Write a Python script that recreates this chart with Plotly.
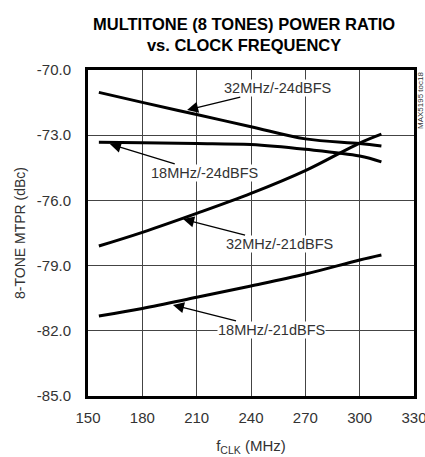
import plotly.graph_objects as go

freq_mhz = [156, 180, 210, 240, 270, 300, 312]
mtpr_32_24 = [-71.03, -71.49, -72.05, -72.61, -73.17, -73.38, -73.50]
mtpr_18_24 = [-73.33, -73.35, -73.38, -73.43, -73.65, -73.96, -74.23]
mtpr_32_21 = [-78.10, -77.47, -76.60, -75.68, -74.63, -73.36, -72.95]
mtpr_18_21 = [-81.32, -80.97, -80.46, -79.94, -79.39, -78.74, -78.51]

x_ticks = [150, 180, 210, 240, 270, 300, 330]
y_ticks = [-70, -73, -76, -79, -82, -85]
y_tick_text = ["-70.0", "-73.0", "-76.0", "-79.0", "-82.0", "-85.0"]

series = [mtpr_32_24, mtpr_18_24, mtpr_32_21, mtpr_18_21]

# label text, label centre (x, y), arrow head (x, y)
labels = ["32MHz/-24dBFS", "18MHz/-24dBFS", "32MHz/-21dBFS", "18MHz/-21dBFS"]
label_pos = [(254.4, -70.83), (214.3, -74.74), (256.0, -78.01), (251.3, -81.96)]
arrow_head = [(204.7, -71.84), (162.1, -73.41), (202.5, -76.86), (196.9, -80.81)]

FONT = "Liberation Sans, Arial, sans-serif"

fig = go.Figure()
for s in series:
    fig.add_trace(go.Scatter(x=freq_mhz, y=s, mode="lines",
                             line=dict(color="black", width=3, shape="spline"),
                             showlegend=False, hoverinfo="skip"))

annotations = []
for t, (lx, ly), (hx, hy) in zip(labels, label_pos, arrow_head):
    annotations.append(dict(x=hx, y=hy, ax=lx, ay=ly, xref="x", yref="y",
                            axref="x", ayref="y", text=t, showarrow=True,
                            arrowhead=2, arrowsize=1.7, arrowwidth=1.3,
                            arrowcolor="black", standoff=0, startstandoff=2,
                            bgcolor="white", borderpad=0,
                            font=dict(family=FONT, size=14.5, color="#333")))
annotations.append(dict(x=1.02, y=1.0, xref="paper", yref="paper",
                        text="MAX5195 toc18", showarrow=False, textangle=-90,
                        xanchor="center", yanchor="top",
                        font=dict(family=FONT, size=8, color="#333")))
annotations.append(dict(x=0.48, y=1.11, xref="paper", yref="paper",
                        text="<b>MULTITONE (8 TONES) POWER RATIO<br>vs. CLOCK FREQUENCY</b>",
                        showarrow=False, xanchor="center", yanchor="middle",
                        font=dict(family=FONT, size=16.5, color="black")))

fig.update_layout(
    width=425, height=457,
    margin=dict(l=88, r=11, t=70, b=61),
    paper_bgcolor="white", plot_bgcolor="white",
    font=dict(family=FONT, size=15, color="#333"),
    annotations=annotations,
)
fig.update_xaxes(range=[150, 330], tickvals=x_ticks, ticks="", showgrid=True,
                 gridcolor="#444", gridwidth=1, zeroline=False, automargin=False,
                 showline=True, linecolor="black", linewidth=3, mirror=True,
                 ticklabelstandoff=6, ticklabeloverflow="allow",
                 title=dict(text="f<sub>CLK</sub> (MHz)", standoff=16,
                            font=dict(size=15)),
                 tickfont=dict(size=15))
fig.update_yaxes(range=[-85, -70], tickvals=y_ticks, ticktext=y_tick_text, ticks="",
                 showgrid=True, gridcolor="#444", gridwidth=1, zeroline=False,
                 automargin=False, ticklabelstandoff=11, ticklabeloverflow="allow",
                 showline=True, linecolor="black", linewidth=3, mirror=True,
                 title=dict(text="8-TONE MTPR (dBc)", standoff=8,
                            font=dict(size=14)),
                 tickfont=dict(size=15))

fig.write_html("out.html", config={"displayModeBar": False},
               post_script="document.body.style.margin='0';")
